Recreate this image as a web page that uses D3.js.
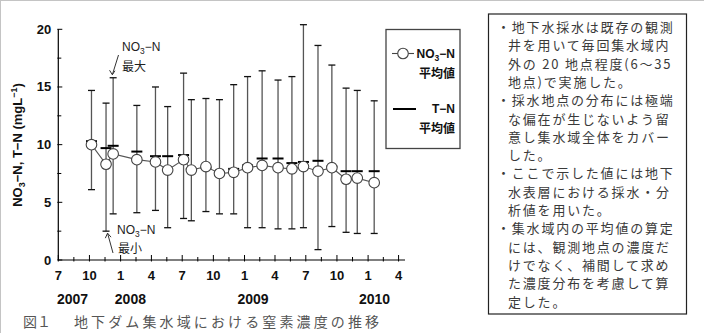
<!DOCTYPE html>
<html>
<head>
<meta charset="utf-8">
<script src="https://cdn.jsdelivr.net/npm/d3@7"></script>
<style>
  html, body { margin: 0; padding: 0; background: #fff; }
  svg { display: block; }
</style>
</head>
<body>
<svg id="chart" width="704" height="333"></svg>
<script>
// ---------------- data ----------------
const sampleDates = ["2007-10-07","2007-11-19","2007-12-10","2008-02-18","2008-04-13","2008-05-19",
  "2008-07-05","2008-07-28","2008-09-09","2008-10-19","2008-11-30","2009-01-10","2009-02-22",
  "2009-04-10","2009-05-21","2009-06-24","2009-08-06","2009-09-16","2009-10-28","2009-11-30","2010-01-19"];
const no3Mean = [10.0, 8.3, 9.2, 8.7, 8.5, 7.8, 8.7, 7.8, 8.1, 7.5, 7.6, 8.0, 8.2, 8.0, 7.9, 8.1, 7.7, 8.0, 7.0, 7.1, 6.7];
const no3Max  = [14.7, 13.6, 15.8, 13.4, 15.0, 13.3, 16.2, 13.9, 14.0, 13.9, 15.2, 15.9, 16.4, 15.6, 15.9, 20.4, 18.6, 16.9, 14.9, 14.7, 13.8];
const no3Min  = [6.1, 2.5, 4.0, 4.1, 4.3, 2.8, 3.6, 3.4, 4.2, 4.0, 4.0, 2.8, 2.8, 2.7, 2.7, 2.8, 0.9, 2.9, 2.4, 2.3, 2.3];
const tnMean  = [10.3, 9.7, 9.9, 9.4, 9.0, 9.0, 9.1, 7.9, 8.0, 7.6, 7.9, 8.2, 8.8, 8.8, 8.4, 8.5, 8.6, 8.1, 7.7, 7.7, 7.7];
const yTickValues = [0, 5, 10, 15, 20];
const yearLabels = ["2007", "2008", "2009", "2010"];
const yearAnchorDates = ["2007-08-12", "2008-01-30", "2009-01-26", "2010-01-20"];
const caption = ["図１", "地下ダム集水域における窒素濃度の推移"];
const noteLines = [
  "・地下水採水は既存の観測",
  "井を用いて毎回集水域内",
  "外の 20 地点程度(6～35",
  "地点)で実施した。",
  "・採水地点の分布には極端",
  "な偏在が生じないよう留",
  "意し集水域全体をカバー",
  "した。",
  "・ここで示した値には地下",
  "水表層における採水・分",
  "析値を用いた。",
  "・集水域内の平均値の算定",
  "には、観測地点の濃度だ",
  "けでなく、補間して求め",
  "た濃度分布を考慮して算",
  "定した。"
];

// ---------------- setup ----------------
const parse = d3.timeParse("%Y-%m-%d");
const data = sampleDates.map((d, i) => ({
  date: parse(d), mean: no3Mean[i], max: no3Max[i], min: no3Min[i], tn: tnMean[i]
}));

const svg = d3.select("#chart");
const LAT = "'Liberation Sans', Arial, sans-serif";
const CJK = "'Noto Sans CJK JP', 'Noto Sans CJK SC', sans-serif";

svg.append("rect").attr("width", 704).attr("height", 333).attr("fill", "#fff");
// outer frame lines (top / left)
svg.append("line").attr("x1", 0).attr("x2", 704).attr("y1", 0.5).attr("y2", 0.5).attr("stroke", "#c4c4c4");
svg.append("line").attr("x1", 0.5).attr("x2", 0.5).attr("y1", 0).attr("y2", 333).attr("stroke", "#c4c4c4");

const x = d3.scaleTime()
  .domain([parse("2007-07-01"), parse("2010-04-20")])
  .range([58.3, 405]);
const y = d3.scaleLinear().domain([0, 20]).range([260, 29.3]);

// ---------------- axes ----------------
const axisG = svg.append("g");
// y axis
axisG.append("line").attr("x1", x.range()[0]).attr("x2", x.range()[0])
  .attr("y1", y(0)).attr("y2", y(20)).attr("stroke", "#000").attr("stroke-width", 1.2);
const yMinor = d3.range(0, 20.01, 2.5);
axisG.selectAll(".ytick").data(yMinor).join("line")
  .attr("x1", x.range()[0] - 1)
  .attr("x2", d => x.range()[0] + (d % 5 === 0 ? 4 : 3))
  .attr("y1", d => y(d)).attr("y2", d => y(d))
  .attr("stroke", "#000").attr("stroke-width", 1);
axisG.selectAll(".ylab").data(yTickValues).join("text")
  .attr("x", x.range()[0] - 7).attr("y", d => y(d) + 4.5)
  .attr("text-anchor", "end")
  .attr("font-family", LAT).attr("font-weight", "bold").attr("font-size", 13)
  .attr("fill", "#111").text(d => d);

// x axis
axisG.append("line").attr("x1", x.range()[0]).attr("x2", x.range()[1])
  .attr("y1", y(0)).attr("y2", y(0)).attr("stroke", "#000").attr("stroke-width", 1.2);
const majorTicks = x.ticks(d3.timeMonth.every(3)).filter(d => d <= parse("2010-04-01"));
const minorTicks = [];
for (let i = 0; i < majorTicks.length - 1; i++) {
  minorTicks.push(new Date((+majorTicks[i] + +majorTicks[i + 1]) / 2));
}
axisG.selectAll(".xmaj").data(majorTicks).join("line")
  .attr("x1", d => x(d)).attr("x2", d => x(d))
  .attr("y1", y(0) + 1.5).attr("y2", y(0) - 5)
  .attr("stroke", "#000").attr("stroke-width", 1);
axisG.selectAll(".xmin").data(minorTicks).join("line")
  .attr("x1", d => x(d)).attr("x2", d => x(d))
  .attr("y1", y(0) + 1.5).attr("y2", y(0) - 3)
  .attr("stroke", "#000").attr("stroke-width", 1);
const monthFmt = d3.timeFormat("%-m");
axisG.selectAll(".xlab").data(majorTicks).join("text")
  .attr("x", d => x(d)).attr("y", 280)
  .attr("text-anchor", "middle")
  .attr("font-family", LAT).attr("font-weight", "bold").attr("font-size", 13)
  .attr("fill", "#111").text(d => monthFmt(d));
axisG.selectAll(".yearlab").data(yearLabels).join("text")
  .attr("x", (d, i) => x(parse(yearAnchorDates[i]))).attr("y", 304)
  .attr("text-anchor", "middle")
  .attr("font-family", LAT).attr("font-weight", "bold").attr("font-size", 14)
  .attr("fill", "#111").text(d => d);

// y axis title
const yt = svg.append("text")
  .attr("transform", "translate(22,145) rotate(-90)")
  .attr("text-anchor", "middle")
  .attr("font-family", LAT).attr("font-weight", "bold").attr("font-size", 13)
  .attr("fill", "#111");
yt.append("tspan").text("NO");
yt.append("tspan").attr("font-size", 9).attr("dy", 3).text("3");
yt.append("tspan").attr("dy", -3).text("−N, T−N (mgL");
yt.append("tspan").attr("font-size", 9).attr("dy", -5).text("−1");
yt.append("tspan").attr("dy", 5).text(")");

// ---------------- marks ----------------
const plot = svg.append("g");
// error bars
plot.selectAll(".eb").data(data).join("line")
  .attr("x1", d => x(d.date)).attr("x2", d => x(d.date))
  .attr("y1", d => y(d.min)).attr("y2", d => y(d.max))
  .attr("stroke", "#555").attr("stroke-width", 1.3);
const capW = 3.5;
["max", "min"].forEach(k => {
  plot.selectAll(".cap-" + k).data(data).join("line")
    .attr("x1", d => x(d.date) - capW).attr("x2", d => x(d.date) + capW)
    .attr("y1", d => y(d[k])).attr("y2", d => y(d[k]))
    .attr("stroke", "#111").attr("stroke-width", 1.3);
});
// T-N mean dashes
const dashW = 5.5;
plot.selectAll(".tn").data(data).join("line")
  .attr("x1", d => x(d.date) - dashW).attr("x2", d => x(d.date) + dashW)
  .attr("y1", d => y(d.tn)).attr("y2", d => y(d.tn))
  .attr("stroke", "#000").attr("stroke-width", 2);
// NO3-N mean line + circles
plot.append("path").datum(data)
  .attr("d", d3.line().x(d => x(d.date)).y(d => y(d.mean)))
  .attr("fill", "none").attr("stroke", "#555").attr("stroke-width", 1.1);
plot.selectAll(".pt").data(data).join("circle")
  .attr("cx", d => x(d.date)).attr("cy", d => y(d.mean)).attr("r", 5.3)
  .attr("fill", "#fff").attr("stroke", "#444").attr("stroke-width", 1.1);

// ---------------- annotations ----------------
function noLabel(g, xx, yy, size) {
  const t = g.append("text").attr("x", xx).attr("y", yy)
    .attr("font-family", LAT).attr("font-size", size).attr("fill", "#222");
  t.append("tspan").text("NO");
  t.append("tspan").attr("font-size", size * 0.7).attr("dy", 3).text("3");
  t.append("tspan").attr("dy", -3).text("−N");
  return t;
}
const ann = svg.append("g");
noLabel(ann, 122, 51, 12);
ann.append("text").attr("x", 122).attr("y", 71).attr("font-family", CJK).attr("font-size", 12)
  .attr("fill", "#222").text("最大");
// arrow to max
const maxPt = data[2];
ann.append("path").attr("d", `M118.5,55 L${x(maxPt.date) - 0.8},${y(maxPt.max) - 3}`)
  .attr("stroke", "#333").attr("fill", "none").attr("stroke-width", 1);
ann.append("path").attr("d", `M${x(maxPt.date) - 3.6},${y(maxPt.max) - 7.5} L${x(maxPt.date) - 0.8},${y(maxPt.max) - 3} L${x(maxPt.date) + 1.8},${y(maxPt.max) - 7}`)
  .attr("stroke", "#333").attr("fill", "none").attr("stroke-width", 1);

noLabel(ann, 117, 234, 12);
ann.append("text").attr("x", 118).attr("y", 253).attr("font-family", CJK).attr("font-size", 12)
  .attr("fill", "#222").text("最小");
const minPt = data[1];
const ax = x(minPt.date) + 1.5, ay = y(minPt.min) + 2;
ann.append("path").attr("d", `M113,253 L${ax},${ay}`)
  .attr("stroke", "#333").attr("fill", "none").attr("stroke-width", 1);
ann.append("path").attr("d", `M${ax - 2.2},${ay + 5} L${ax},${ay} L${ax + 3.5},${ay + 4}`)
  .attr("stroke", "#333").attr("fill", "none").attr("stroke-width", 1);

// ---------------- legend ----------------
const lg = svg.append("g");
lg.append("rect").attr("x", 386).attr("y", 29.5).attr("width", 74).attr("height", 119)
  .attr("fill", "#fff").attr("stroke", "#444").attr("stroke-width", 1.3);
lg.append("line").attr("x1", 392).attr("x2", 414).attr("y1", 53.5).attr("y2", 53.5)
  .attr("stroke", "#444").attr("stroke-width", 1.1);
lg.append("circle").attr("cx", 403).attr("cy", 53.5).attr("r", 5.3)
  .attr("fill", "#fff").attr("stroke", "#444").attr("stroke-width", 1.1);
const lt1 = lg.append("text").attr("x", 455).attr("y", 57.5).attr("text-anchor", "end")
  .attr("font-family", LAT).attr("font-weight", "bold").attr("font-size", 12).attr("fill", "#111");
lt1.append("tspan").text("NO");
lt1.append("tspan").attr("font-size", 8.5).attr("dy", 3).text("3");
lt1.append("tspan").attr("dy", -3).text("−N");
lg.append("text").attr("x", 455).attr("y", 78).attr("text-anchor", "end")
  .attr("font-family", CJK).attr("font-weight", "bold").attr("font-size", 12).attr("fill", "#111")
  .text("平均値");
lg.append("line").attr("x1", 393).attr("x2", 416).attr("y1", 109).attr("y2", 109)
  .attr("stroke", "#000").attr("stroke-width", 2);
lg.append("text").attr("x", 455).attr("y", 113).attr("text-anchor", "end")
  .attr("font-family", LAT).attr("font-weight", "bold").attr("font-size", 12).attr("fill", "#111")
  .text("T−N");
lg.append("text").attr("x", 455).attr("y", 133).attr("text-anchor", "end")
  .attr("font-family", CJK).attr("font-weight", "bold").attr("font-size", 12).attr("fill", "#111")
  .text("平均値");

// ---------------- note box ----------------
const nb = svg.append("g");
nb.append("rect").attr("x", 488.5).attr("y", 14).attr("width", 198).attr("height", 300)
  .attr("fill", "#fff").attr("stroke", "#222").attr("stroke-width", 1.2);
nb.selectAll("text").data(noteLines).join("text")
  .attr("x", d => d.startsWith("・") ? 497 : 508)
  .attr("y", (d, i) => 32 + i * 18.3)
  .attr("font-family", CJK).attr("font-size", 13).attr("letter-spacing", 1.8)
  .attr("fill", "#3a3a3a").text(d => d);

// ---------------- caption ----------------
svg.append("text").attr("x", 23).attr("y", 327)
  .attr("font-family", CJK).attr("font-size", 14).attr("fill", "#555").text(caption[0]);
svg.append("text").attr("x", 74).attr("y", 327)
  .attr("font-family", CJK).attr("font-size", 14).attr("fill", "#555")
  .attr("textLength", 305).attr("lengthAdjust", "spacing").text(caption[1]);
</script>
</body>
</html>
